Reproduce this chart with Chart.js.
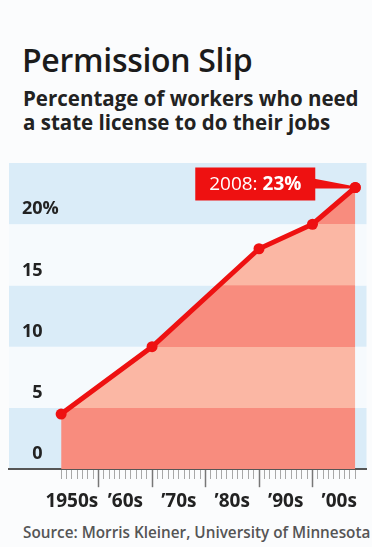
<!DOCTYPE html>
<html><head><meta charset="utf-8">
<script src="https://cdn.jsdelivr.net/npm/chart.js@4.4.1/dist/chart.umd.min.js"></script>
<style>
html,body{margin:0;padding:0;background:#fbfcfd;}
body{width:372px;height:547px;position:relative;overflow:hidden;font-family:'Open Sans',sans-serif;}
#title{position:absolute;left:22px;top:44px;font-size:32px;line-height:32px;font-weight:600;color:#1b1b1b;white-space:nowrap;letter-spacing:-0.3px;}
#sub{position:absolute;left:23px;top:86px;font-size:20.5px;line-height:24px;font-weight:700;color:#222;white-space:nowrap;}
#src{position:absolute;left:23px;top:525px;font-size:15.3px;line-height:15px;font-weight:600;color:#555;white-space:nowrap;}
#wrap{position:absolute;left:0;top:150px;width:372px;height:370px;}
</style>
</head><body>
<div id="title">Permission Slip</div>
<div id="sub">Percentage of workers who need<br>a state license to do their jobs</div>
<div id="wrap"><canvas id="c" width="372" height="370"></canvas></div>
<div id="src">Source: Morris Kleiner, University of Minnesota</div>
<script>
// ---- data ----
const pointYears = [1953, 1970, 1990, 2000, 2008];
const licensedPct = [4.5, 10, 18, 20, 23];
const decadeLabels = ['1950s', '\u201960s', '\u201970s', '\u201980s', '\u201990s', '\u201900s'];
const decadeStarts = [1950, 1960, 1970, 1980, 1990, 2000];
const yTickValues = [0, 5, 10, 15, 20];
const yTickLabels = ['\u20070', '\u20075', '10', '15', '20%'];
const calloutText = ['2008: ', '23%'];

const bandBlue = '#daecf8', bandWhite = '#f6fafd';
const fillDark = '#f88c7e', fillLight = '#fbb7a4';
const red = '#ee1111';
const yMax = 25, bandStep = 5;

const bandsPlugin = {
  id: 'bands',
  beforeDraw(chart) {
    const {ctx, chartArea: a, scales: {y}} = chart;
    ctx.save();
    for (let v = 0, k = 0; v < yMax; v += bandStep, k++) {
      const y0 = y.getPixelForValue(v), y1 = y.getPixelForValue(v + bandStep);
      ctx.fillStyle = k % 2 === 0 ? bandBlue : bandWhite;
      ctx.fillRect(a.left, y1, a.right - a.left, y0 - y1);
    }
    ctx.restore();
  }
};

const calloutPlugin = {
  id: 'callout',
  afterDatasetsDraw(chart) {
    const {ctx} = chart;
    const meta = chart.getDatasetMeta(0);
    const last = meta.data[meta.data.length - 1];
    const px = last.x, py = last.y;
    const boxR = px - 40, boxW = 120, boxH = 33, boxT = py - 20;
    ctx.save();
    ctx.fillStyle = red;
    ctx.beginPath();
    ctx.moveTo(boxR - 2, py - 9);
    ctx.lineTo(px, py - 1);
    ctx.lineTo(px, py + 1);
    ctx.lineTo(boxR - 2, py + 1);
    ctx.closePath();
    ctx.fill();
    ctx.fillRect(boxR - boxW, boxT, boxW, boxH);
    ctx.fillStyle = '#ffffff';
    ctx.textBaseline = 'middle';
    ctx.font = '400 19px "Open Sans"';
    const w1 = ctx.measureText(calloutText[0]).width;
    ctx.font = '700 19px "Open Sans"';
    const w2 = ctx.measureText(calloutText[1]).width;
    const tx = boxR - boxW / 2 - (w1 + w2) / 2;
    const ty = boxT + boxH / 2 + 1;
    ctx.font = '400 19px "Open Sans"';
    ctx.fillText(calloutText[0], tx, ty);
    ctx.font = '700 19px "Open Sans"';
    ctx.fillText(calloutText[1], tx + w1, ty);
    ctx.fillStyle = red;
    ctx.beginPath();
    ctx.arc(px, py, 5.5, 0, Math.PI * 2);
    ctx.fill();
    ctx.restore();
  }
};

function bandGradient(context) {
  const chart = context.chart;
  if (!chart.chartArea) return fillDark;
  const y = chart.scales.y;
  const g = chart.ctx.createLinearGradient(0, y.getPixelForValue(0), 0, y.getPixelForValue(yMax));
  for (let v = 0, k = 0; v < yMax; v += bandStep, k++) {
    const c = k % 2 === 0 ? fillDark : fillLight;
    g.addColorStop(v / yMax, c);
    g.addColorStop(Math.min(1, (v + bandStep) / yMax - 0.0001), c);
  }
  return g;
}

new Chart(document.getElementById('c'), {
  type: 'line',
  data: {
    datasets: [{
      data: pointYears.map((yr, i) => ({x: yr, y: licensedPct[i]})),
      borderColor: red,
      borderWidth: 5,
      pointRadius: 5.5,
      pointBackgroundColor: red,
      pointBorderWidth: 0,
      fill: 'origin',
      backgroundColor: bandGradient,
      tension: 0,
      clip: false
    }]
  },
  options: {
    responsive: false,
    animation: false,
    devicePixelRatio: 1,
    layout: {padding: {top: 13, left: 9, right: -5, bottom: 4}},
    plugins: {legend: {display: false}, tooltip: {enabled: false}},
    scales: {
      x: {
        type: 'linear',
        min: 1943.25,
        max: 2010.1,
        afterBuildTicks: (s) => {
          const t = [];
          for (let yr = pointYears[0]; yr <= pointYears[pointYears.length - 1]; yr++) t.push({value: yr});
          s.ticks = t;
        },
        afterFit: (s) => { s.paddingLeft = 0; s.paddingRight = 0; },
        grid: {
          display: true,
          drawOnChartArea: false,
          drawTicks: true,
          tickLength: 18,
          tickColor: (c) => (c.tick && c.tick.value % 10 === 0) ? '#777' : '#a8a8a8',
          tickWidth: (c) => (c.tick && c.tick.value % 10 === 0) ? 1.5 : 1,
          tickBorderDash: (c) => (c.tick && c.tick.value % 10 === 0) ? [] : [9, 40]
        },
        border: {display: true, color: '#555', width: 2},
        ticks: {
          autoSkip: false,
          maxRotation: 0,
          minRotation: 0,
          padding: 3,
          color: '#222',
          font: {family: 'Open Sans', size: 19, weight: '700'},
          callback: (v) => {
            const i = decadeStarts.findIndex(d => d + 5 === v);
            return i >= 0 ? decadeLabels[i] : '';
          }
        }
      },
      y: {
        type: 'linear',
        position: 'left',
        min: 0,
        max: yMax,
        afterBuildTicks: (s) => { s.ticks = yTickValues.map(v => ({value: v})); },
        afterFit: (s) => { s.width = 0; s.paddingTop = 0; s.paddingBottom = 0; },
        grid: {display: false, drawTicks: false},
        border: {display: false},
        ticks: {
          mirror: true,
          padding: 13,
          labelOffset: -15,
          color: '#222',
          font: {family: 'Open Sans', size: 18, weight: '700'},
          callback: (v, i) => yTickLabels[i]
        }
      }
    }
  },
  plugins: [bandsPlugin, calloutPlugin]
});
</script>
</body></html>
